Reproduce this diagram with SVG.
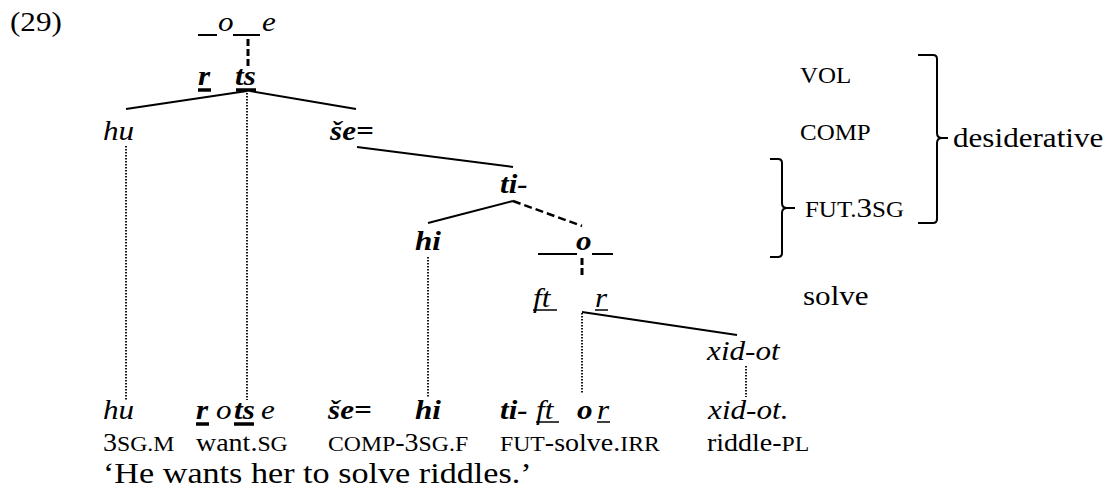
<svg xmlns="http://www.w3.org/2000/svg" width="1116" height="492" viewBox="0 0 1116 492">
<style>
text{font-family:"Liberation Serif","Times New Roman",serif;font-size:27.8px;fill:#000;transform-box:fill-box;transform-origin:left center;transform:scaleX(1.12)}
.i{font-style:italic}
.b{font-weight:bold;font-style:italic}
.sc{font-size:22.3px}
.g{font-size:25px}
.gs{font-size:21.2px}
.tr{font-size:30.5px}
.ln{stroke:#000;stroke-width:2;fill:none}
.dash{stroke-dasharray:8 4;stroke-width:2.5}
.vd{stroke-width:3;stroke-dasharray:7 3}
.dot{stroke:#000;stroke-width:1.8;stroke-dasharray:1.5 1.5;fill:none}
.ul{stroke:#000;stroke-width:1.5}
.ulb{stroke:#000;stroke-width:3.5}
</style>
<rect width="1116" height="492" fill="#fff"/>
<g id="example-number"><text x="10" y="31">(29)</text></g>

<g id="connectors">
  <line class="ln vd" x1="248" y1="39" x2="248" y2="68"/>
  <line class="ln" x1="247" y1="91" x2="126" y2="109"/>
  <line class="ln" x1="250" y1="91" x2="356" y2="109"/>
  <line class="ln" x1="357" y1="147" x2="513" y2="167"/>
  <line class="ln" x1="513" y1="201" x2="428" y2="223"/>
  <line class="ln dash" x1="513" y1="201" x2="582" y2="226"/>
  <line class="ln vd" x1="582" y1="258" x2="582" y2="276"/>
  <line class="ln" x1="582" y1="312" x2="737" y2="335"/>
  <line class="dot" x1="126" y1="146" x2="126" y2="400"/>
  <line class="dot" x1="247" y1="93" x2="247" y2="400"/>
  <line class="dot" x1="428" y1="257" x2="428" y2="398"/>
  <line class="dot" x1="582" y1="313" x2="582" y2="394"/>
  <line class="dot" x1="746" y1="366" x2="746" y2="397"/>
</g>

<g id="node-template">
  <line class="ln" x1="198" y1="35" x2="217" y2="35"/>
  <text class="i" x="218" y="31">o</text>
  <line class="ln" x1="233" y1="35" x2="260" y2="35"/>
  <text class="i" x="262" y="31">e</text>
</g>
<g id="node-root">
  <text class="b" x="198" y="85">r</text>
  <line class="ulb" x1="198" y1="90" x2="211" y2="90"/>
  <text class="b" x="235" y="85">ts</text>
  <line class="ulb" x1="236" y1="90" x2="256" y2="90"/>
</g>
<g id="node-hu"><text class="i" x="103" y="140">hu</text></g>
<g id="node-se"><text class="b" x="330" y="140">še=</text></g>
<g id="node-ti"><text class="b" x="500" y="193">ti-</text></g>
<g id="node-hi"><text class="b" x="415" y="250">hi</text></g>
<g id="node-o">
  <line class="ln" x1="538" y1="254" x2="577" y2="254"/>
  <text class="b" x="576" y="250">o</text>
  <line class="ln" x1="592" y1="254" x2="613" y2="254"/>
</g>
<g id="node-ft-r">
  <text class="i" x="533" y="307">ft</text>
  <line class="ul" x1="533" y1="310" x2="557" y2="310"/>
  <text class="i" x="595" y="307">r</text>
  <line class="ul" x1="595" y1="310" x2="608" y2="310"/>
</g>
<g id="node-xid"><text class="i" x="707" y="360">xid-ot</text></g>

<g id="labels">
  <text x="800" y="83"><tspan class="sc">VOL</tspan></text>
  <text x="800" y="140"><tspan class="sc">COMP</tspan></text>
  <text x="805" y="217"><tspan class="sc">FUT.</tspan>3<tspan class="sc">SG</tspan></text>
  <text x="803" y="305">solve</text>
  <path class="ln" d="M918,55 L933,55 Q937,55 937,59 L937,133 Q937,138 942,138 L948,138 M942,138 Q937,138 937,143 L937,219 Q937,223 933,223 L918,223"/>
  <path class="ln" d="M770,159 L778,159 Q782,159 782,163 L782,203 Q782,208 787,208 L795,208 M787,208 Q782,208 782,213 L782,253 Q782,257 778,257 L770,257"/>
  <text x="953" y="147">desiderative</text>
</g>

<g id="row-words">
  <text class="i" x="103" y="419">hu</text>
  <text class="b" x="196" y="419">r</text>
  <line class="ulb" x1="196" y1="424" x2="209" y2="424"/>
  <text class="i" x="216" y="419">o</text>
  <text class="b" x="234" y="419">ts</text>
  <line class="ulb" x1="234" y1="424" x2="254" y2="424"/>
  <text class="i" x="261" y="419">e</text>
  <text class="b" x="328" y="419">še=</text>
  <text class="b" x="415" y="419">hi</text>
  <text class="b" x="500" y="419">ti-</text>
  <text class="i" x="536" y="419">ft</text>
  <line class="ul" x1="536" y1="422" x2="559" y2="422"/>
  <text class="b" x="577" y="419">o</text>
  <text class="i" x="597" y="419">r</text>
  <line class="ul" x1="597" y1="422" x2="610" y2="422"/>
  <text class="i" x="708" y="419">xid-ot.</text>
</g>
<g id="row-gloss">
  <text class="g" x="103" y="451">3<tspan class="gs">SG.M</tspan></text>
  <text class="g" x="196" y="451">want.<tspan class="gs">SG</tspan></text>
  <text class="g" x="328" y="451"><tspan class="gs">COMP</tspan>-3<tspan class="gs">SG.F</tspan></text>
  <text class="g" x="500" y="451"><tspan class="gs">FUT</tspan>-solve.<tspan class="gs">IRR</tspan></text>
  <text class="g" x="707" y="451">riddle-<tspan class="gs">PL</tspan></text>
</g>
<g id="row-translation">
  <text class="tr" x="103" y="483">‘He wants her to solve riddles.’</text>
</g>
</svg>
